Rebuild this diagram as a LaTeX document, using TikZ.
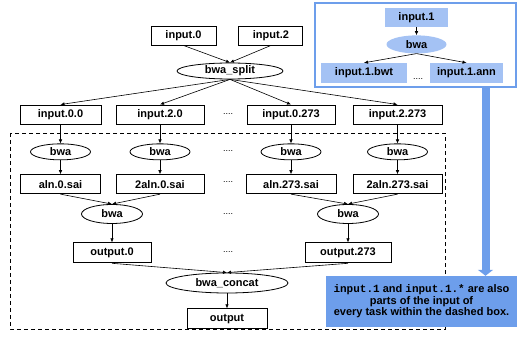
\documentclass[tikz,border=0pt]{standalone}
\usepackage{fontspec}
\setmainfont{Liberation Sans}
\setmonofont{Liberation Mono}
\usepackage{tikz}
\usetikzlibrary{positioning,arrows.meta,shapes.geometric}

\definecolor{lightblue}{HTML}{A4C2F4}
\definecolor{midblue}{HTML}{6D9EEB}

\begin{document}
\begin{tikzpicture}[
  x=1pt, y=-1pt,
  font=\fontsize{11}{11.5}\selectfont\bfseries,
  box/.style={draw, line width=0.9pt, fill=white, inner sep=0pt, minimum height=19pt},
  op/.style={draw, ellipse, line width=0.8pt, fill=white, inner sep=0pt, minimum width=60pt, minimum height=16pt},
  pbox/.style={fill=lightblue, inner sep=0pt, minimum height=20pt},
  dots/.style={font=\fontsize{9}{9}\selectfont\mdseries},
  arr/.style={-{Latex[length=4pt, width=3.5pt]}, line width=0.6pt},
  bigarr/.style={-{Triangle[length=6pt, width=15pt]}, line width=8pt, midblue}
]
\useasboundingbox (0,0) rectangle (517,339);

% dashed box round the tasks
\draw[line width=0.9pt, dash pattern=on 4pt off 3pt] (10,133) rectangle (445,329);

% top of the graph
\node[box, minimum width=65pt] (in0) at (183.5,35.5) {input.0};
\node[box, minimum width=64pt, right=22pt of in0] (in2) {input.2};
\node[op, minimum width=106pt] (split) at (230,71) {bwa\_split};

% four columns
\node[box, minimum width=81pt] (in00) at (60.5,114.5) {input.0.0};
\node[box, minimum width=88pt] (in20) at (160,114.5) {input.2.0};
\node[box, minimum width=88pt] (in0x) at (291,114.5) {input.0.273};
\node[box, minimum width=89pt] (in2x) at (397.5,114.5) {input.2.273};

\node[op, below=19pt of in00] (bwa00) {bwa};
\node[op, below=19pt of in20] (bwa20) {bwa};
\node[op, below=19pt of in0x] (bwa0x) {bwa};
\node[op, below=19pt of in2x] (bwa2x) {bwa};

\node[box, minimum width=80pt, below=14pt of bwa00] (sai00) {aln.0.sai};
\node[box, minimum width=88pt, below=14pt of bwa20] (sai20) {2aln.0.sai};
\node[box, minimum width=90pt, below=14pt of bwa0x] (sai0x) {aln.273.sai};
\node[box, minimum width=89pt, below=14pt of bwa2x] (sai2x) {2aln.273.sai};

\node[op, minimum width=61pt, minimum height=19pt] (samL) at (112,214) {bwa};
\node[op, minimum width=61pt, minimum height=19pt] (samR) at (348,214) {bwa};

\node[box, minimum width=78pt, minimum height=20pt, below=18.5pt of samL] (out0) {output.0};
\node[box, minimum width=86pt, minimum height=20pt, below=18.5pt of samR] (outx) {output.273};

\node[op, minimum width=122pt, minimum height=20pt] (concat) at (227,283) {bwa\_concat};
\node[box, minimum width=80pt, minimum height=20pt, below=15pt of concat] (out) {output};

% dots between the columns
\foreach \y/\n in {114/1, 151/2, 182/3, 214/4, 252/5}
  \node[dots] (gap\n) at (228,\y) {....};

\draw[arr] (in0.south) -- (split.north);
\draw[arr] (in2.south) -- (split.north);
\foreach \c in {in00, in20, in0x, in2x}
  \draw[arr] (split.south) -- (\c.north);
\draw[arr] (in00) -- (bwa00);
\draw[arr] (in20) -- (bwa20);
\draw[arr] (in0x) -- (bwa0x);
\draw[arr] (in2x) -- (bwa2x);
\draw[arr] (bwa00) -- (sai00);
\draw[arr] (bwa20) -- (sai20);
\draw[arr] (bwa0x) -- (sai0x);
\draw[arr] (bwa2x) -- (sai2x);
\draw[arr] (sai00.south) -- (samL.north);
\draw[arr] (sai20.south) -- (samL.north);
\draw[arr] (sai0x.south) -- (samR.north);
\draw[arr] (sai2x.south) -- (samR.north);
\draw[arr] (samL) -- (out0);
\draw[arr] (samR) -- (outx);
\draw[arr] (out0.south) -- (concat.north);
\draw[arr] (outx.south) -- (concat.north);
\draw[arr] (concat) -- (out);

% shared reference input
\node[draw=midblue, line width=1.2pt, fill=white, minimum width=201pt, minimum height=84pt] (panel) at (415.5,45) {};
\node[pbox, minimum width=63pt, minimum height=19pt] (pin1) at (416.5,17.5) {input.1};
\node[ellipse, fill=lightblue, inner sep=0pt, minimum width=60pt, minimum height=18pt, below=8pt of pin1] (pbwa) {bwa};
\node[pbox, minimum width=86pt] (pbwt) at (364,73) {input.1.bwt};
\node[pbox, minimum width=73pt] (pann) at (466.5,73) {input.1.ann};
\node[dots] (pdots) at (418,79) {....};
\draw[arr] (pin1) -- (pbwa);
\draw[arr] (pbwa.south) -- (pbwt.north);
\draw[arr] (pbwa.south) -- (pann.north);

\node[fill=midblue, align=center, inner sep=0pt, minimum width=191pt, minimum height=51pt] (note) at (421.5,301.5)
  {\texttt{input.1} and \texttt{input.1.*} are also\\parts of the input of\\every task within the dashed box.};
\coordinate (bigx) at (485.5,0);
\draw[bigarr] (panel.south -| bigx) -- (note.north -| bigx);
\end{tikzpicture}
\end{document}
